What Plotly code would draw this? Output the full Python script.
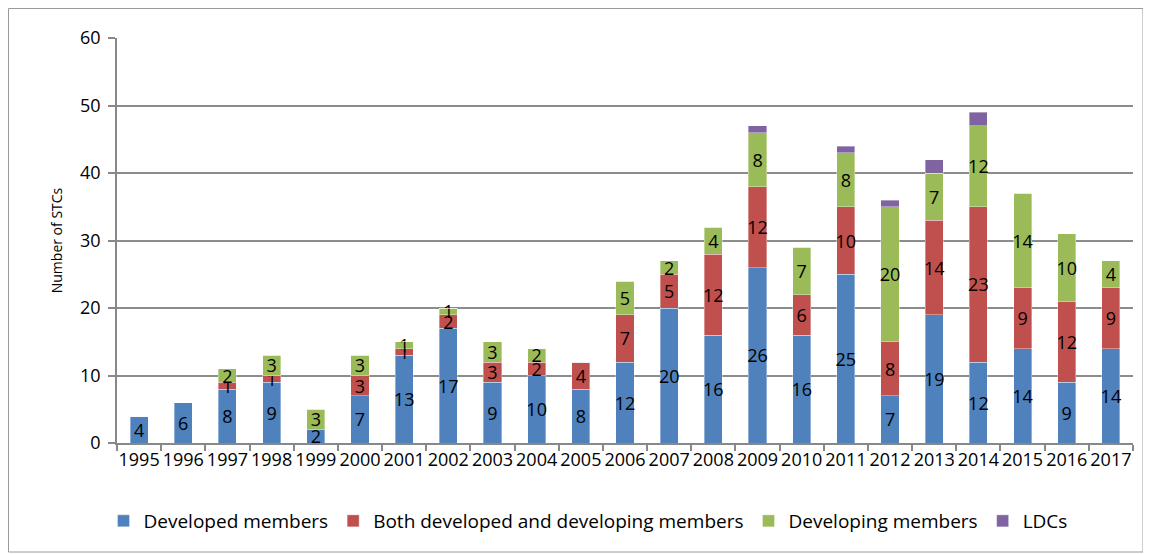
import plotly.graph_objects as go

years = [str(y) for y in range(1995, 2018)]
developed = [4, 6, 8, 9, 2, 7, 13, 17, 9, 10, 8, 12, 20, 16, 26, 16, 25, 7, 19, 12, 14, 9, 14]
both = [0, 0, 1, 1, 0, 3, 1, 2, 3, 2, 4, 7, 5, 12, 12, 6, 10, 8, 14, 23, 9, 12, 9]
developing = [0, 0, 2, 3, 3, 3, 1, 1, 3, 2, 0, 5, 2, 4, 8, 7, 8, 20, 7, 12, 14, 10, 4]
ldcs = [0, 0, 0, 0, 0, 0, 0, 0, 0, 0, 0, 0, 0, 0, 1, 0, 1, 1, 2, 2, 0, 0, 0]

series = [
    ("Developed members", developed, "#4F81BD", True),
    ("Both developed and developing members", both, "#C0504D", True),
    ("Developing members", developing, "#9BBB59", True),
    ("LDCs", ldcs, "#8064A2", False),
]

FONT = "Open Sans"
fig = go.Figure()
for name, vals, color, labelled in series:
    fig.add_trace(go.Bar(
        x=years, y=vals, name=name,
        marker=dict(color=color, line=dict(color="rgba(255,255,255,0.6)", width=0.6)),
        text=[str(v) if (v and labelled) else "" for v in vals],
        textposition="inside", insidetextanchor="middle",
        textfont=dict(family=FONT, size=18, color="black"),
        textangle=0, cliponaxis=False,
    ))

# page offset of the figure (body margin)
OFF = 8
W, H = 1151, 554
L, T = 117 - OFF, 38 - OFF
R = OFF + W - 1133
B = OFF + H - 443
pw, ph = W - L - R, H - T - B

def px_x(x):  # page x -> paper
    return (x - OFF - L) / pw

def px_y(y):  # page y -> paper
    return (H - B - (y - OFF)) / ph

fig.update_layout(
    barmode="stack", bargap=0.59,
    width=W, height=H,
    margin=dict(l=L, r=R, t=T, b=B, autoexpand=False),
    paper_bgcolor="white", plot_bgcolor="white",
    font=dict(family=FONT, size=18, color="black"),
    uniformtext=dict(minsize=18, mode="show"),
    showlegend=True,
    legend=dict(orientation="h", x=px_x(588), xanchor="center", y=px_y(521), yanchor="middle",
                font=dict(family=FONT, size=19), traceorder="normal", itemwidth=30),
    xaxis=dict(showline=True, linecolor="#888888", linewidth=1.5, automargin=False,
               ticks="outside", tickson="boundaries", ticklen=6, tickcolor="#888888", tickwidth=1.5,
               tickangle=0, tickfont=dict(family=FONT, size=18), showgrid=False),
    yaxis=dict(range=[0, 60], dtick=10, showline=True, linecolor="#888888", linewidth=1.5, automargin=False,
               ticks="outside", ticklen=7, tickcolor="#888888", tickwidth=1.5, ticklabelstandoff=4,
               showgrid=True, gridcolor="#8c8c8c", gridwidth=1.5,
               tickfont=dict(family=FONT, size=18),
               title=dict(text="Number of STCs", font=dict(family=FONT, size=14), standoff=14),
               zeroline=False),
)

fig.add_shape(type="rect", xref="paper", yref="paper",
              x0=px_x(8.5), x1=px_x(1143),
              y0=px_y(552), y1=px_y(8.5),
              line=dict(color="#9a9a9a", width=1), layer="below")

fig.write_html("out.html")
